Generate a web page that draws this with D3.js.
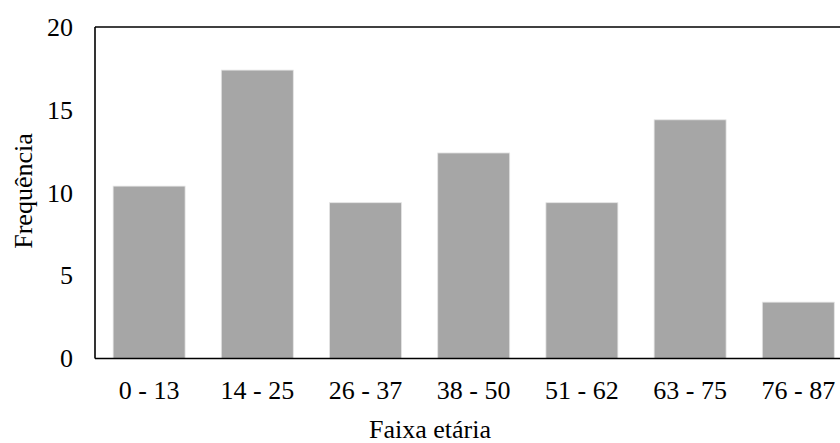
<!DOCTYPE html>
<html>
<head>
<meta charset="utf-8">
<script src="https://cdn.jsdelivr.net/npm/d3@7"></script>
<style>
  html, body { margin: 0; padding: 0; background: #fff; overflow: hidden; }
  svg { display: block; }
  svg text { font-family: "Liberation Serif", "Times New Roman", Times, "DejaVu Serif", serif !important; fill: #000; }
</style>
</head>
<body>
<svg id="chart" width="840" height="443"></svg>
<script>
// Age groups and how many people fall in each
const categories = ["0 - 13", "14 - 25", "26 - 37", "38 - 50", "51 - 62", "63 - 75", "76 - 87"];
const frequencies = [10.4, 17.4, 9.4, 12.4, 9.4, 14.4, 3.4];
const yTicks = [0, 5, 10, 15, 20];
const xTitle = "Faixa etária";
const yTitle = "Frequência";

(function () {
  const serif = '"Liberation Serif", "Times New Roman", Times, "DejaVu Serif", serif';
  const svg = d3.select("#chart");
  const plotLeft = 95, plotTop = 27, plotBottom = 358.5;
  const step = 108.2;
  const plotRight = plotLeft + step * categories.length;

  const x = d3.scaleBand()
    .domain(categories)
    .range([plotLeft, plotRight])
    .paddingInner(0.335)
    .paddingOuter(0.1675);

  const y = d3.scaleLinear().domain([0, 20]).range([plotBottom, plotTop]);

  // bars
  svg.append("g")
    .selectAll("rect")
    .data(frequencies)
    .join("rect")
    .attr("x", (d, i) => x(categories[i]))
    .attr("y", d => y(d))
    .attr("width", x.bandwidth())
    .attr("height", d => y(0) - y(d))
    .attr("fill", "#a6a6a6")
    .attr("stroke", "#e4e4e4")
    .attr("stroke-width", 0.8);

  // frame: left, top and bottom lines
  const frame = svg.append("g").attr("stroke", "#000").attr("stroke-width", 1.6).attr("fill", "none");
  frame.append("line").attr("x1", plotLeft).attr("x2", plotLeft).attr("y1", plotTop).attr("y2", plotBottom);
  frame.append("line").attr("x1", plotLeft).attr("x2", plotRight).attr("y1", plotTop).attr("y2", plotTop);
  frame.append("line").attr("x1", plotLeft).attr("x2", plotRight).attr("y1", plotBottom).attr("y2", plotBottom);

  // y axis labels
  const yAxis = d3.axisLeft(y).tickValues(yTicks).tickSize(0).tickPadding(22);
  const gy = svg.append("g").attr("transform", `translate(${plotLeft},0)`).call(yAxis)
    .attr("font-family", serif).attr("font-size", 26);
  gy.select(".domain").remove();
  gy.selectAll("text").attr("fill", "#000");

  // x axis labels
  const xAxis = d3.axisBottom(x).tickSize(0).tickPadding(22);
  const gx = svg.append("g").attr("transform", `translate(0,${plotBottom})`).call(xAxis)
    .attr("font-family", serif).attr("font-size", 26);
  gx.select(".domain").remove();
  gx.selectAll("text").attr("fill", "#000");

  // axis titles
  svg.append("text")
    .attr("x", 430).attr("y", 438)
    .attr("text-anchor", "middle")
    .attr("font-family", serif)
    .attr("font-size", 26)
    .text(xTitle);

  svg.append("text")
    .attr("transform", "translate(32,191) rotate(-90)")
    .attr("text-anchor", "middle")
    .attr("font-family", serif)
    .attr("font-size", 26)
    .text(yTitle);
})();
</script>
</body>
</html>
